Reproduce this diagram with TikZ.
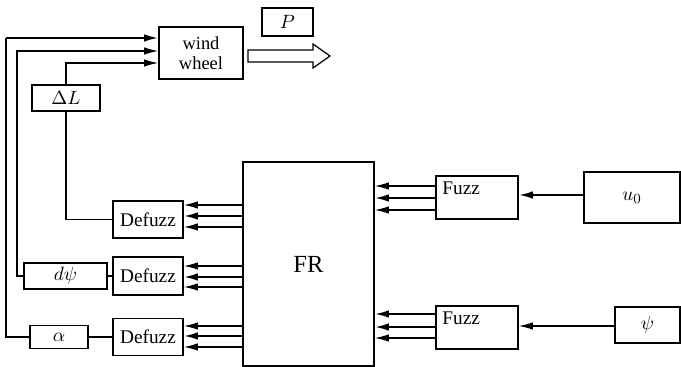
\documentclass[tikz,border=0pt]{standalone}
\usepackage{fontspec}
\setmainfont{Liberation Serif}
\usetikzlibrary{arrows.meta, calc}
\tikzset{
  block/.style={draw, line width=1pt, fill=white, inner sep=1pt, font=\fontsize{11}{13}\selectfont},
  wire/.style={line width=0.7pt},
  sig/.style={line width=0.7pt, -{Latex[length=2.8mm, width=1.5mm]}},
  bus/.style={line width=1.1pt, -{Latex[length=2.8mm, width=1.5mm]}},
}

\begin{document}
\begin{tikzpicture}[x=0.02cm, y=-0.02cm]
  \useasboundingbox (0,0) rectangle (681,367);
  % wind wheel and output
  \node[block, minimum width=1.68cm, minimum height=1.04cm, align=center,
        font=\fontsize{10.5}{11.5}\selectfont] (ww) at (201,53) {wind\\wheel};
  \node[block, minimum width=1.02cm, minimum height=0.56cm] (P) at (287.5,22) {$P$};
  \draw[line width=0.7pt] (248,50) -- (313,50) -- (313,44) -- (330,56) -- (313,68)
    -- (313,62) -- (248,62) -- cycle;
  % actuators
  \node[block, minimum width=1.36cm, minimum height=0.52cm] (dL) at (66,98) {$\Delta L$};
  \node[block, minimum width=1.66cm, minimum height=0.52cm] (dpsi) at (65.5,276) {$d\psi$};
  \node[block, minimum width=1.16cm, minimum height=0.46cm] (alpha) at (59,337) {$\alpha$};
  % defuzzifiers
  \node[block, minimum width=1.4cm, minimum height=0.74cm] (df1) at (148,219.5) {Defuzz};
  \node[block, minimum width=1.4cm, minimum height=0.76cm] (df2) at (148,276) {Defuzz};
  \node[block, minimum width=1.4cm, minimum height=0.74cm] (df3) at (148,337) {Defuzz};
  % rule base
  \node[block, minimum width=2.62cm, minimum height=4.08cm,
        font=\fontsize{14}{16}\selectfont] (FR) at (308.5,264) {FR};
  % fuzzifiers
  \node[block, minimum width=1.64cm, minimum height=0.86cm] (fz1) at (477,197.5) {};
  \node[anchor=north west, inner sep=0pt, font=\fontsize{11}{13}\selectfont]
    (fz1t) at ($(fz1.north west)+(7,6)$) {Fuzz};
  \node[block, minimum width=1.64cm, minimum height=0.86cm] (fz2) at (477,327.5) {};
  \node[anchor=north west, inner sep=0pt, font=\fontsize{11}{13}\selectfont]
    (fz2t) at ($(fz2.north west)+(7,6)$) {Fuzz};
  % inputs
  \node[block, minimum width=1.92cm, minimum height=1.02cm] (u0) at (632,197.5) {$u_0$};
  \node[block, minimum width=1.3cm, minimum height=0.72cm] (psi) at (647.5,325) {$\psi$};
  % feedback to wind wheel
  \coordinate (c1) at (6,38);
  \coordinate (c2) at (17,51);
  \draw[wire] (alpha.west) -| (c1);
  \draw[bus] (c1) -- (ww.west |- c1);
  \draw[sig] (dpsi.west) -| (c2) -- (ww.west |- c2);
  \draw[sig] (dL.north) |- (ww.west |- 0,63);
  \draw[wire] (dL.south) |- (df1.west);
  \draw[wire] (dpsi) -- (df2);
  \draw[wire] (alpha) -- (df3);
  % FR -> defuzz
  \foreach \y/\s in {205/sig, 216/bus, 227/sig}
    \draw[\s] (FR.west |- 0,\y) -- (df1.east |- 0,\y);
  \foreach \y/\s in {266/sig, 277/bus, 287/sig}
    \draw[\s] (FR.west |- 0,\y) -- (df2.east |- 0,\y);
  \foreach \y/\s in {326/sig, 336/bus, 347/sig}
    \draw[\s] (FR.west |- 0,\y) -- (df3.east |- 0,\y);
  % fuzz -> FR
  \foreach \y/\s in {186/sig, 198/bus, 210/sig}
    \draw[\s] (fz1.west |- 0,\y) -- (FR.east |- 0,\y);
  \foreach \y/\s in {314/bus, 327/bus, 338/sig}
    \draw[\s] (fz2.west |- 0,\y) -- (FR.east |- 0,\y);
  \draw[bus] (u0.west |- 0,195) -- (fz1.east |- 0,195);
  \draw[sig] (psi.west |- 0,326) -- (fz2.east |- 0,326);
\end{tikzpicture}
\end{document}
